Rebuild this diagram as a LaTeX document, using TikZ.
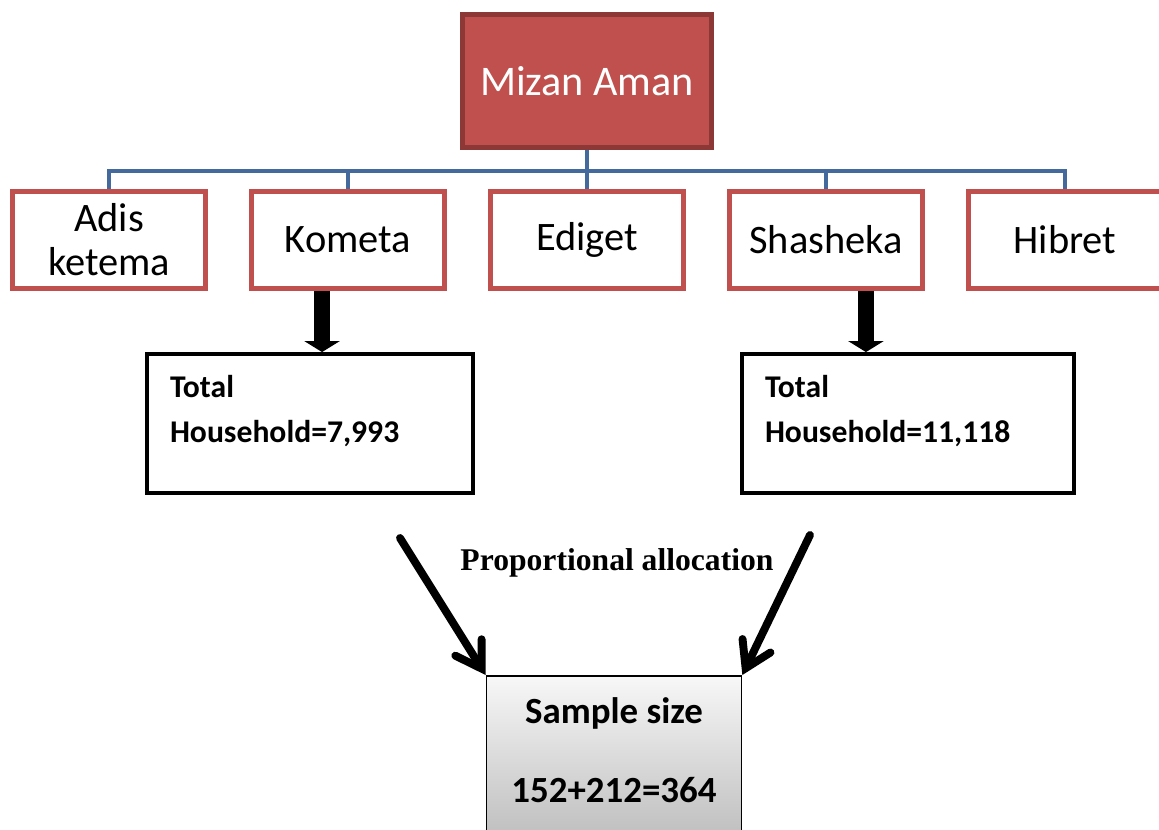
\documentclass[tikz,border=0pt]{standalone}
\usepackage{fontspec}
\setmainfont{Carlito}
\newfontfamily\timesbf{Liberation Serif}[Scale=1]
\usetikzlibrary{arrows.meta,positioning,shadings}

\definecolor{zonered}{HTML}{C0504D}
\definecolor{zoneline}{HTML}{8C3836}
\definecolor{busblue}{HTML}{44699C}

\tikzset{
  town/.style={draw=zonered, line width=2.8pt, fill=white,
    minimum width=3.86cm, minimum height=1.94cm,
    font=\fontsize{23}{25}\selectfont},
  total/.style={draw=black, line width=2.2pt, align=left,
    minimum height=2.78cm, inner xsep=0.46cm, text depth=1.48cm,
    font=\fontsize{18}{25.5}\selectfont\bfseries},
  fatarrow/.style={line width=0.32cm, -{Triangle[width=0.7cm,length=0.22cm]}},
  thinarrow/.style={line width=4.5pt, line cap=round,
    -{Straight Barb[length=0.5cm,width=0.62cm,line cap=round]}}
}

\begin{document}
\begin{tikzpicture}[x=0.02cm, y=-0.02cm,
  level distance=3.18cm, sibling distance=4.78cm,
  every node/.style = {align=center},
  edge from parent/.style={draw=busblue, line width=2pt},
  edge from parent path={(\tikzparentnode.south) -- ++(0,21) -| (\tikzchildnode.north)}]
  \useasboundingbox (0,0) rectangle (1159,829);
  \clip (0,0) rectangle (1159,829);
  % district and its kebeles
  \node (mizan) [fill=zonered, draw=zoneline, line width=2.8pt,
    minimum width=4.98cm, minimum height=2.66cm, text=white,
    font=\fontsize{24}{26}\selectfont] at (587,81) {Mizan Aman}
  child { node (adis) [town] {Adis\\ketema} }
  child { node (kometa) [town] {Kometa} }
  child { node (ediget) [town] {Ediget} }
  child { node (shasheka) [town] {Shasheka} }
  child { node (hibret) [town] {Hibret} };
  % selected kebeles
  \node (totA) [total, text width=5.6cm] at (310,423.5) {Total\\Household=7,993};
  \node (totB) [total, text width=5.72cm] at (908,423.5) {Total\\Household=11,118};
  \draw [fatarrow] ([xshift=-0.52cm]kometa.south) -- ([xshift=-0.52cm]kometa.south |- totA.north);
  \draw [fatarrow] ([xshift=0.8cm]shasheka.south) -- ([xshift=0.8cm]shasheka.south |- totB.north);
  % sample
  \node (sample) [draw=black, line width=1pt, top color=gray!6, bottom color=gray!50,
    minimum width=5.1cm, minimum height=3.2cm, anchor=north, text depth=0.22cm,
    font=\fontsize{21}{45}\selectfont\bfseries] at (614,675) {Sample size\\152+212=364};
  \node (alloc) [font=\fontsize{18}{20}\selectfont\timesbf\bfseries] at (617,563) {Proportional allocation};
  \coordinate (fromA) at (400,538);
  \coordinate (fromB) at (810,535);
  \draw [thinarrow] (fromA) -- (sample.north west);
  \draw [thinarrow] (fromB) -- (sample.north east);
\end{tikzpicture}
\end{document}
